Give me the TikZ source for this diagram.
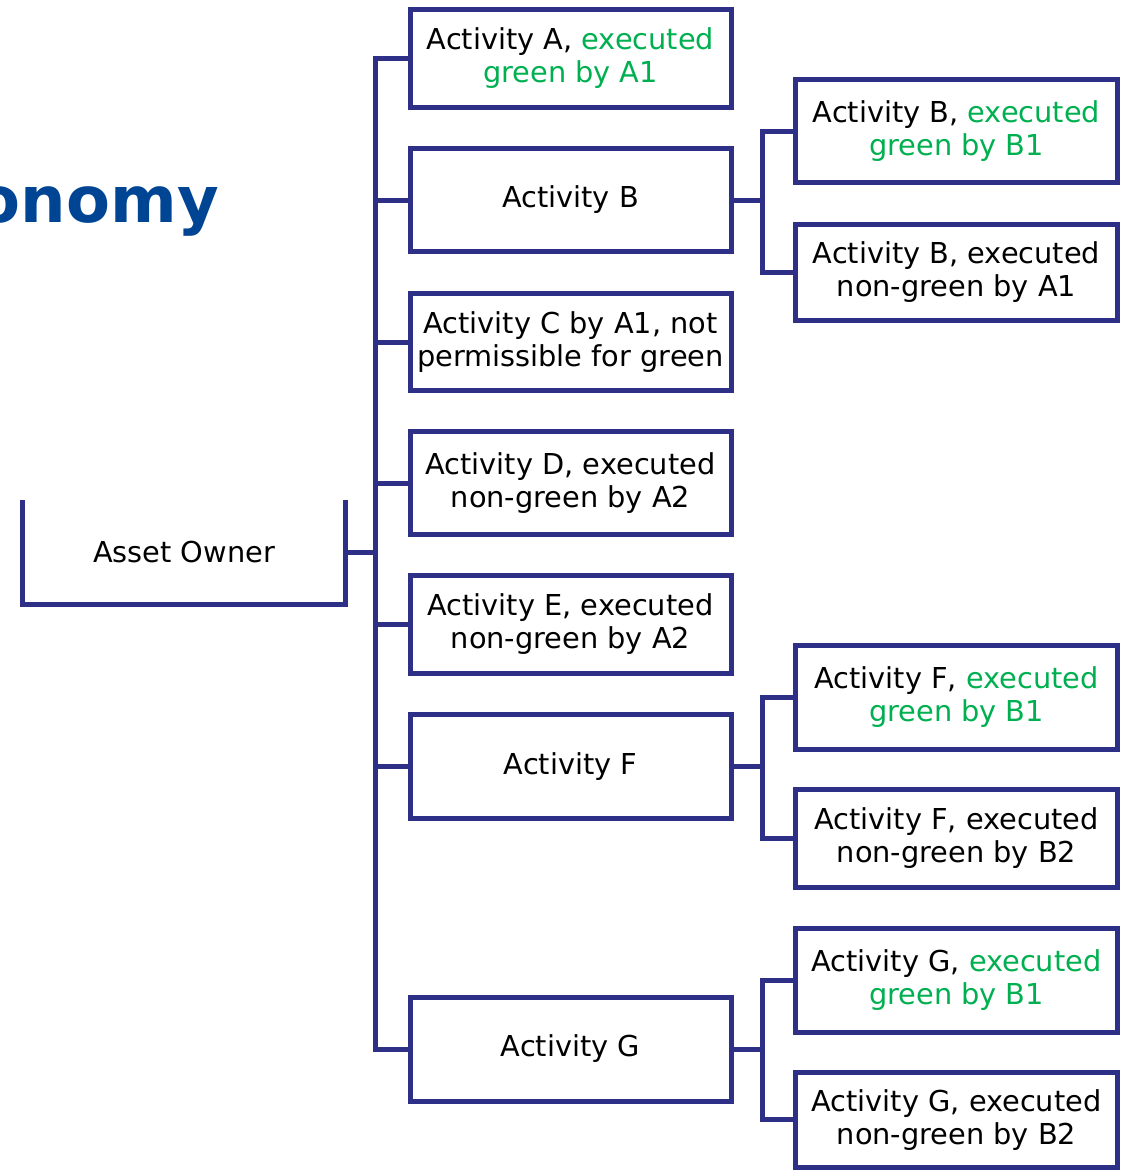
\documentclass[tikz,border=0pt]{standalone}
\usepackage{fontspec}
\setmainfont{DejaVu Sans}
\definecolor{linec}{RGB}{46,48,135}
\definecolor{greentxt}{RGB}{0,176,80}
\definecolor{titleblue}{RGB}{0,68,148}
\tikzset{
  conn/.style={draw=linec, line width=5pt},
  actbox/.style={draw=linec, line width=5pt, minimum width=321pt, inner sep=0pt, align=center,
     font=\fontsize{28.8}{33}\selectfont, text=black},
  subbox/.style={actbox, minimum width=322pt},
}
\newcommand{\gr}[1]{\textcolor{greentxt}{#1}}
\begin{document}
\begin{tikzpicture}[x=1pt,y=-1pt]
\useasboundingbox (0,0) rectangle (1132,1170);
% title fragment
\node[anchor=base east, inner sep=0pt, text=titleblue, font=\fontsize{64}{70}\selectfont\bfseries] (title) at (219,222) {onomy};
% asset owner
\node[minimum width=323pt, minimum height=104pt, inner sep=0pt, font=\fontsize{28.8}{33}\selectfont] (owner) at (184,552.5) {Asset Owner};
\draw[conn] (owner.north west) -- (owner.south west) -- (owner.south east) -- (owner.north east);
% first column
\node[actbox, minimum height=98pt] (A) at (570.5,58.5) {Activity A, \gr{executed}\\\gr{green by A1}};
\node[actbox, minimum height=103pt] (B) at (570.5,200) {Activity B};
\node[actbox, minimum height=97pt] (C) at (570.5,342) {Activity C by A1, not\\permissible for green};
\node[actbox, minimum height=103.5pt] (D) at (570.5,483) {Activity D, executed\\non-green by A2};
\node[actbox, minimum height=98pt] (E) at (570.5,624.5) {Activity E, executed\\non-green by A2};
\node[actbox, minimum height=104pt] (F) at (570.5,766.5) {Activity F};
\node[actbox, minimum height=104pt] (G) at (570.5,1049) {Activity G};
% second column
\node[subbox, minimum height=103pt] (B1) at (956.5,131) {Activity B, \gr{executed}\\\gr{green by B1}};
\node[subbox, minimum height=96pt] (B2) at (956.5,272.5) {Activity B, executed\\non-green by A1};
\node[subbox, minimum height=104pt] (F1) at (956.5,697.5) {Activity F, \gr{executed}\\\gr{green by B1}};
\node[subbox, minimum height=98pt] (F2) at (956.5,838.5) {Activity F, executed\\non-green by B2};
\node[subbox, minimum height=104pt] (G1) at (956.5,980.5) {Activity G, \gr{executed}\\\gr{green by B1}};
\node[subbox, minimum height=94.5pt] (G2) at (956.5,1119.75) {Activity G, executed\\non-green by B2};
% main trunk
\draw[conn] (A.west) -- ++(-32.5,0) coordinate (t) |- (G.west);
\foreach \n in {B,C,D,E,F} {\draw[conn] (\n.west) -- (\n.west -| t);}
\draw[conn] (owner.east) -- (owner.east -| t);
% sub trunks
\foreach \p/\a/\b in {B/B1/B2, F/F1/F2, G/G1/G2} {
  \draw[conn] (\a.west) -- ++(-31,0) coordinate (s\p) |- (\b.west);
  \draw[conn] (\p.east) -- (\p.east -| s\p);
}
\end{tikzpicture}
\end{document}
